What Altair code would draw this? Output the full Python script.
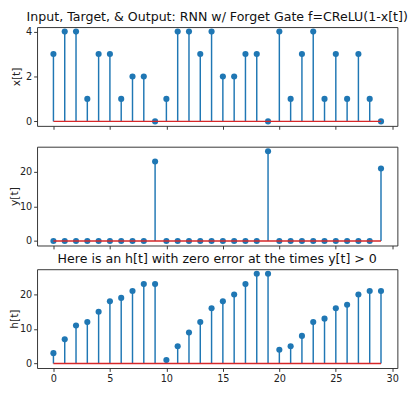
import altair as alt
import pandas as pd

t = list(range(30))
x_vals = [3, 4, 4, 1, 3, 3, 1, 2, 2, 0, 1, 4, 4, 3, 4, 2, 2, 3, 3, 0, 4, 1, 3, 4, 1, 3, 1, 3, 1, 0]
y_vals = [0, 0, 0, 0, 0, 0, 0, 0, 0, 23, 0, 0, 0, 0, 0, 0, 0, 0, 0, 26, 0, 0, 0, 0, 0, 0, 0, 0, 0, 21]
h_vals = [3, 7, 11, 12, 15, 18, 19, 21, 23, 23, 1, 5, 9, 12, 16, 18, 20, 23, 26, 26,
          4, 5, 8, 12, 13, 16, 17, 20, 21, 21]
x_ticks = [0, 5, 10, 15, 20, 25, 30]

BLUE = "#1f77b4"
RED = "#d62728"
FONT = "DejaVu Sans"


def panel(vals, ylabel, ydomain, yticks, title=None, show_xlabels=False, title_offset=2):
    df = pd.DataFrame({"t": t, "v": vals})
    base = alt.Chart(df)
    xenc = alt.X(
        "t:Q",
        scale=alt.Scale(domain=[-1.45, 30.45], nice=False, zero=False),
        axis=alt.Axis(values=x_ticks, labels=show_xlabels, title=None, grid=False,
                      domain=False, tickSize=3.5, labelFontSize=10, labelPadding=2.5),
    )
    yenc = alt.Y(
        "v:Q",
        scale=alt.Scale(domain=ydomain, nice=False, zero=False),
        axis=alt.Axis(values=yticks, title=ylabel, grid=False, domain=False, tickSize=3.5,
                      labelFontSize=10, labelPadding=2, titleFontSize=11,
                      titleFontWeight="normal", titlePadding=0, minExtent=16),
    )
    stems = base.mark_rule(color=BLUE, strokeWidth=1.5).encode(x=xenc, y=yenc, y2=alt.datum(0))
    pts = base.mark_circle(color=BLUE, size=40, opacity=1).encode(x=xenc, y=yenc)
    baseline = base.mark_line(color=RED, strokeWidth=1.5).encode(x=xenc, y=alt.datum(0))
    ch = alt.layer(stems, pts, baseline).properties(width=372, height=102)
    if title:
        ch = ch.properties(title=alt.TitleParams(title, fontSize=13, font=FONT,
                                                 fontWeight="normal", offset=title_offset,
                                                 color="#111"))
    return ch


top = panel(x_vals, "x[t]", [-0.2, 4.2], [0, 2, 4],
            title="Input, Target, & Output: RNN w/ Forget Gate f=CReLU(1-x[t])",
            title_offset=3)
mid = panel(y_vals, "y[t]", [-1.3, 27.3], [0, 10, 20])
bot = panel(h_vals, "h[t]", [-1.3, 27.3], [0, 10, 20],
            title="Here is an h[t] with zero error at the times y[t] > 0", show_xlabels=True,
            title_offset=3)

lower = alt.vconcat(mid, bot, spacing=2.5)
chart = alt.vconcat(top, lower, spacing=15.5).properties(
    padding={"left": 0, "top": -3.5, "right": 0, "bottom": 0}
).configure(font=FONT).configure_view(
    stroke="#333", strokeWidth=1
).configure_axis(labelColor="#222", titleColor="#222", tickColor="#333", labelFont=FONT,
                 titleFont=FONT)

chart.save("out.html", embed_options={"renderer": "svg", "actions": False})
